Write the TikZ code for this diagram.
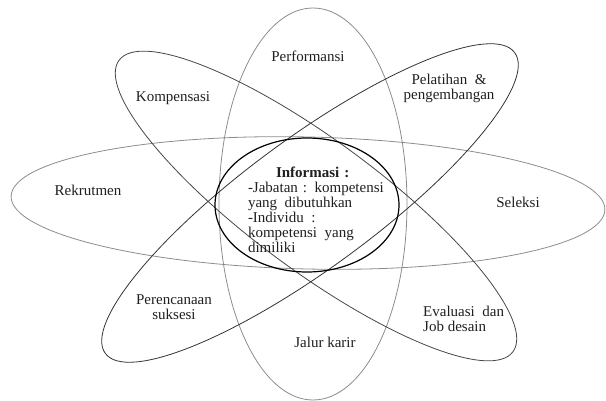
\documentclass[tikz,border=0pt]{standalone}
\usepackage{fontspec}
\setmainfont{Liberation Serif}
\usetikzlibrary{shapes.geometric}
\begin{document}
\begin{tikzpicture}[x=1pt,y=-1pt,
  orbit/.style={draw, ellipse, inner sep=0pt, line width=0.8pt},
  lbl/.style={font=\fontsize{15}{15}\selectfont, text=black!88, inner sep=0pt, align=center}]
\useasboundingbox (0,0) rectangle (606,401);

% outer orbits
\node[orbit, draw=black!45, minimum width=594pt, minimum height=132pt, rotate=-1.3] (horiz) at (308,203) {};
\node[orbit, draw=black!45, minimum width=188pt, minimum height=392pt] (vert) at (313,204) {};
\node[orbit, draw=black!72, minimum width=490pt, minimum height=130pt, rotate=-36.5] (diagA) at (316,206) {};
\node[orbit, draw=black!80, minimum width=508pt, minimum height=130pt, rotate=36.3] (diagB) at (310,203) {};
% central information ellipse
\node[orbit, draw=black, line width=1.2pt, minimum width=184pt, minimum height=134pt] (core) at (307,205) {};

% labels in the orbit lobes
\node[lbl, anchor=base] (perf) at (308,62) {Performansi};
\node[lbl] (pel) at (449,88) {Pelatihan\enspace\&\\pengembangan};
\node[lbl, anchor=base] (komp) at (173,102) {Kompensasi};
\node[lbl, anchor=base] (rek) at (88,196) {Rekrutmen};
\node[lbl, anchor=base] (sel) at (518,208) {Seleksi};
\node[lbl] (suks) at (174,307) {Perencanaan\\suksesi};
\node[lbl, anchor=west, align=left] (eval) at (423,319) {Evaluasi\enspace dan\\Job desain};
\node[lbl, anchor=base] (jalur) at (325,348) {Jalur karir};

% central text
\node[lbl, align=left, text width=140pt] (info) at (318,209.5)
  {\hspace*{28pt}\textbf{Informasi :}\\
   -Jabatan : kompetensi\\
   yang\enspace dibutuhkan\\
   -Individu\enspace :\\
   kompetensi\enspace yang\\
   dimiliki};
\end{tikzpicture}
\end{document}
